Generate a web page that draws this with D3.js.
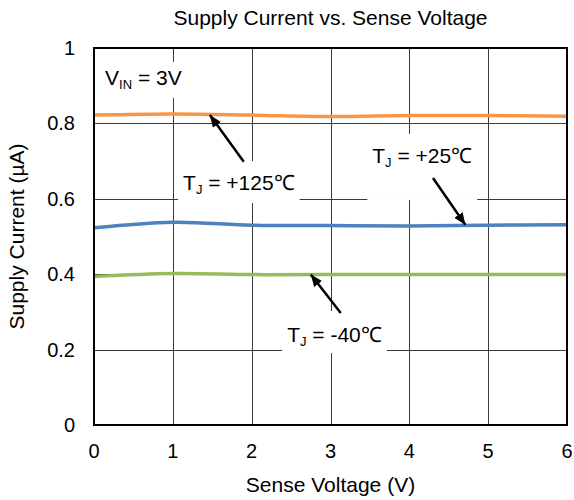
<!DOCTYPE html>
<html>
<head>
<meta charset="utf-8">
<script src="https://cdn.jsdelivr.net/npm/d3@7"></script>
<style>
  body { margin: 0; background: #fff; }
  svg { display: block; font-family: Arial, "Liberation Sans", sans-serif; }
</style>
</head>
<body>
<svg id="chart" width="574" height="500"></svg>
<script>
// sense voltage (V)
const senseV = [0, 1, 2, 3, 4, 5, 6]
// supply current (uA) per junction temperature
const i125 = [0.822, 0.825, 0.822, 0.818, 0.821, 0.821, 0.819]
const i25 = [0.523, 0.538, 0.530, 0.529, 0.528, 0.530, 0.531]
const iM40 = [0.394, 0.402, 0.399, 0.399, 0.399, 0.399, 0.399]
const xTicks = [0, 1, 2, 3, 4, 5, 6]
const yTicks = [0, 0.2, 0.4, 0.6, 0.8, 1]

const series = [
    { name: "+125", values: i125, color: "#f79646" },
    { name: "+25", values: i25, color: "#4f81bd" },
    { name: "-40", values: iM40, color: "#9bbb59" }
]

// annotation text anchor and arrow (data units)
const notes = [
    { main: "V", sub: "IN", rest: " = 3V", x: 0.14, y: 0.902, pad: [4, 6, 4, 4] },
    { main: "T", sub: "J", rest: " = +125℃", x: 1.13, y: 0.623, pad: [10, 6, 5, 5],
      from: [1.90, 0.698], to: [1.47, 0.822] },
    { main: "T", sub: "J", rest: " = +25℃", x: 3.53, y: 0.695, pad: [10, 30, 5, 5],
      from: [4.30, 0.655], to: [4.71, 0.531] },
    { main: "T", sub: "J", rest: " = -40℃", x: 2.45, y: 0.22, pad: [12, 4, 5, 5],
      from: [3.13, 0.297], to: [2.75, 0.399] }
]

var plotL = 94, plotR = 567, plotT = 48, plotB = 425

var x = d3.scaleLinear().domain([0, 6]).range([plotL, plotR])
var y = d3.scaleLinear().domain([0, 1]).range([plotB, plotT])

var svg = d3.select("#chart")

// grid
svg.append("g")
    .selectAll("line")
    .data(xTicks.slice(1, -1))
    .enter().append("line")
    .attr("x1", d => Math.round(x(d)) + 0.5).attr("x2", d => Math.round(x(d)) + 0.5)
    .attr("y1", plotT).attr("y2", plotB)
    .attr("stroke", "#3a3a3a").attr("stroke-width", 1)

svg.append("g")
    .selectAll("line")
    .data(yTicks.slice(1, -1))
    .enter().append("line")
    .attr("x1", plotL).attr("x2", plotR)
    .attr("y1", d => Math.round(y(d)) + 0.5).attr("y2", d => Math.round(y(d)) + 0.5)
    .attr("stroke", "#3a3a3a").attr("stroke-width", 1)

// label boxes + text
var noteG = svg.append("g")
notes.forEach(function (n) {
    var g = noteG.append("g")
    var box = g.append("rect").attr("fill", "#fff")
    var t = g.append("text")
        .attr("x", x(n.x)).attr("y", y(n.y))
        .attr("font-size", 21).attr("fill", "#000")
    t.append("tspan").text(n.main)
    t.append("tspan").attr("font-size", 13).attr("dy", 4).text(n.sub)
    t.append("tspan").attr("dy", -4).text(n.rest)
    var b = t.node().getBBox()
    box.attr("x", b.x - n.pad[2]).attr("y", b.y - n.pad[0])
        .attr("width", b.width + n.pad[2] + n.pad[3])
        .attr("height", b.height + n.pad[0] + n.pad[1])
})

// curves
var line = d3.line()
    .x((d, i) => x(senseV[i]))
    .y(d => y(d))
    .curve(d3.curveCatmullRom.alpha(0.5))

svg.append("g")
    .selectAll("path")
    .data(series)
    .enter().append("path")
    .attr("d", d => line(d.values))
    .attr("fill", "none")
    .attr("stroke", d => d.color)
    .attr("stroke-width", 3.5)

// arrows
svg.append("defs").append("marker")
    .attr("id", "head")
    .attr("viewBox", "0 0 12 10")
    .attr("refX", 12).attr("refY", 5)
    .attr("markerWidth", 12).attr("markerHeight", 10)
    .attr("markerUnits", "userSpaceOnUse")
    .attr("orient", "auto")
    .append("path").attr("d", "M0,0 L12,5 L0,10 Z").attr("fill", "#000")

svg.append("g")
    .selectAll("line")
    .data(notes.filter(n => n.from))
    .enter().append("line")
    .attr("x1", d => x(d.from[0])).attr("y1", d => y(d.from[1]))
    .attr("x2", d => x(d.to[0])).attr("y2", d => y(d.to[1]))
    .attr("stroke", "#000").attr("stroke-width", 2.5)
    .attr("marker-end", "url(#head)")

// frame
svg.append("rect")
    .attr("x", plotL).attr("y", plotT)
    .attr("width", plotR - plotL).attr("height", plotB - plotT)
    .attr("fill", "none").attr("stroke", "#000").attr("stroke-width", 2)

// axes (labels only)
svg.append("g")
    .selectAll("text")
    .data(xTicks)
    .enter().append("text")
    .attr("x", d => x(d)).attr("y", plotB + 33)
    .attr("text-anchor", "middle").attr("font-size", 20)
    .text(d => d)

svg.append("g")
    .selectAll("text")
    .data(yTicks)
    .enter().append("text")
    .attr("x", plotL - 19).attr("y", d => y(d))
    .attr("dy", "0.35em")
    .attr("text-anchor", "end").attr("font-size", 20)
    .text(d => d)

svg.append("text")
    .attr("x", (plotL + plotR) / 2).attr("y", 492)
    .attr("text-anchor", "middle").attr("font-size", 21)
    .text("Sense Voltage (V)")

svg.append("text")
    .attr("transform", "translate(24," + (plotT + plotB) / 2 + ") rotate(-90)")
    .attr("text-anchor", "middle").attr("font-size", 21)
    .text("Supply Current (µA)")

svg.append("text")
    .attr("x", (plotL + plotR) / 2).attr("y", 25)
    .attr("text-anchor", "middle").attr("font-size", 21)
    .text("Supply Current vs. Sense Voltage")
</script>
</body>
</html>
